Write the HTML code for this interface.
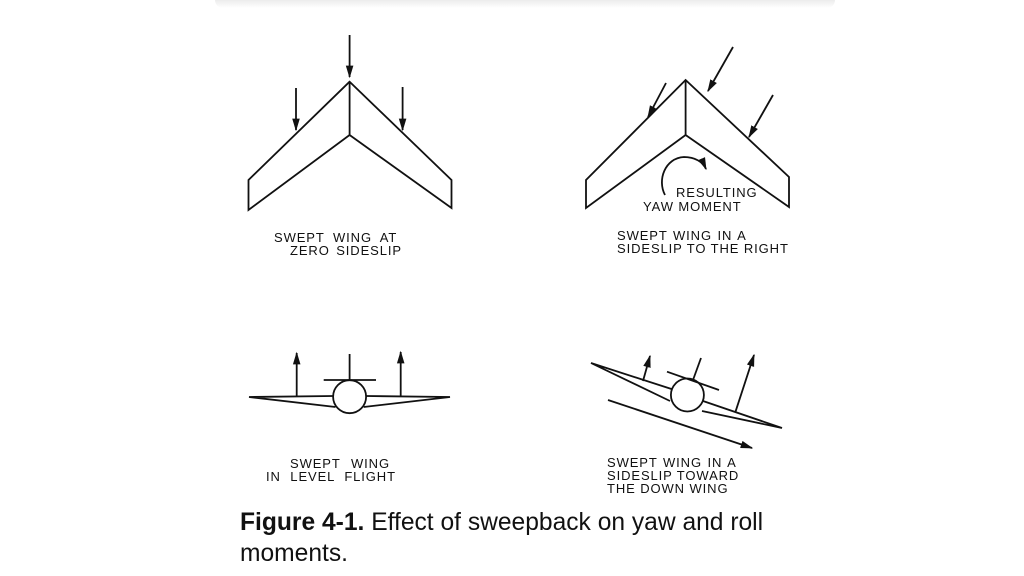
<!DOCTYPE html>
<html><head><meta charset="utf-8"><style>
html,body{margin:0;padding:0;background:#fff;}
body{width:1024px;height:576px;overflow:hidden;position:relative;}
.shadow{position:absolute;left:215px;top:0;width:620px;height:8px;background:linear-gradient(#ececec,#fff);border-radius:0 0 20px 20px;}
.cap{position:absolute;left:240px;top:507px;font-family:"Liberation Sans",sans-serif;font-size:24.6px;line-height:31px;color:#111;width:580px;}
svg{position:absolute;left:0;top:0;}
text{font-family:"Liberation Sans",sans-serif;font-size:13px;fill:#111;letter-spacing:0.9px;}
</style></head><body>
<div class="shadow"></div>
<svg width="1024" height="576" viewBox="0 0 1024 576">
<defs>
<marker id="ah" viewBox="0 0 10 10" refX="9" refY="5" markerWidth="7" markerHeight="7" orient="auto"><path d="M0,2 L10,5 L0,8 Z" fill="#111"/></marker>
</defs>
<g stroke="#111" stroke-width="1.8" fill="none" stroke-linejoin="miter">
<path d="M349.6,81.7 L248.5,180 L248.5,210 L349.6,135 L451.5,208 L451.5,180 Z"/>
<line x1="349.6" y1="81.7" x2="349.6" y2="135"/>
<line x1="349.6" y1="35" x2="349.6" y2="77" marker-end="url(#ah)"/>
<line x1="296" y1="88" x2="296" y2="130" marker-end="url(#ah)"/>
<line x1="402.6" y1="87" x2="402.6" y2="130" marker-end="url(#ah)"/>
<path d="M685.6,80 L586,180 L586,208 L685.6,135 L789,207 L789,177 Z"/>
<line x1="685.6" y1="80" x2="685.6" y2="135"/>
<line x1="733" y1="47" x2="708" y2="91" marker-end="url(#ah)"/>
<line x1="666" y1="83" x2="648" y2="117" marker-end="url(#ah)"/>
<line x1="773" y1="95" x2="749" y2="137" marker-end="url(#ah)"/>
<path d="M665,195 C657,180 665,158 684,157 C695,157 703,162 706,169" marker-end="url(#ah)"/>
<circle cx="349.6" cy="396.7" r="16.5"/>
<path d="M333.5,396 L249,397 L335.5,407"/>
<path d="M365.7,396 L450,397 L363.7,407"/>
<line x1="323.7" y1="380" x2="376" y2="380"/>
<line x1="349.6" y1="354" x2="349.6" y2="380"/>
<line x1="296.7" y1="396" x2="296.7" y2="353" marker-end="url(#ah)"/>
<line x1="400.7" y1="396" x2="400.7" y2="352" marker-end="url(#ah)"/>
<circle cx="687.4" cy="395" r="16.5"/>
<path d="M671.5,389 L591,363 L670,401"/>
<path d="M703,401 L782,428 L702,411"/>
<line x1="667" y1="371.7" x2="719" y2="390"/>
<line x1="693" y1="380" x2="701" y2="358"/>
<line x1="643" y1="381" x2="650" y2="356" marker-end="url(#ah)"/>
<line x1="735.5" y1="411.7" x2="754" y2="355" marker-end="url(#ah)"/>
<line x1="608" y1="400" x2="752" y2="448" marker-end="url(#ah)"/>
</g>
<text x="274" y="242" word-spacing="4">SWEPT WING AT</text>
<text x="290" y="255" word-spacing="2">ZERO SIDESLIP</text>
<text x="676" y="197">RESULTING</text>
<text x="643" y="211">YAW MOMENT</text>
<text x="617" y="240" word-spacing="1">SWEPT WING IN A</text>
<text x="617" y="253" letter-spacing="0.6">SIDESLIP TO THE RIGHT</text>
<text x="290" y="468" word-spacing="6">SWEPT WING</text>
<text x="266" y="481" word-spacing="5">IN LEVEL FLIGHT</text>
<text x="607" y="467" word-spacing="1">SWEPT WING IN A</text>
<text x="607" y="480">SIDESLIP TOWARD</text>
<text x="607" y="493">THE DOWN WING</text>
</svg>
<div class="cap"><b>Figure 4-1.</b> Effect of sweepback on yaw and roll moments.</div>
</body></html>
